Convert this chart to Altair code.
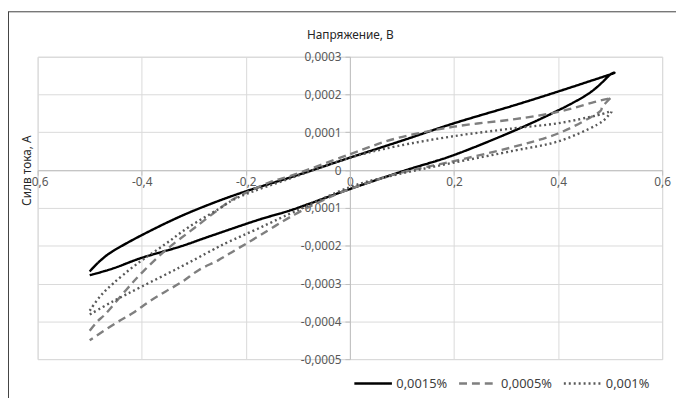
import altair as alt
import pandas as pd

series = ["0,0015%", "0,0005%", "0,001%"]

# 0,0015%  (forward branch, then return branch)
s1_up_x = [-0.5, -0.48, -0.455, -0.4, -0.33, -0.265, -0.2, -0.107, 0.0, 0.1, 0.2, 0.317, 0.4, 0.5]
s1_up_y = [-0.000268, -0.00024, -0.000214, -0.000172, -0.000125, -0.000088, -0.000056, -0.000016,
           0.000033, 0.000078, 0.000124, 0.000172, 0.000208, 0.000253]
s1_lo_x = [0.5, 0.475, 0.45, 0.4, 0.317, 0.2, 0.108, 0.0, -0.107, -0.177, -0.265, -0.328, -0.4, -0.455, -0.5]
s1_lo_y = [0.000253, 0.00022, 0.000195, 0.000158, 0.000105, 0.00004, 0.0, -0.00005, -0.000103,
           -0.000132, -0.000173, -0.000203, -0.000232, -0.00026, -0.000278]

# 0,0005%
s2_up_x = [-0.5, -0.485, -0.468, -0.43, -0.398, -0.354, -0.297, -0.2335, -0.2, -0.15, -0.107,
           0.0, 0.089, 0.2, 0.317, 0.4, 0.469, 0.5]
s2_up_y = [-0.000425, -0.0004, -0.000378, -0.000317, -0.000269, -0.000212, -0.000151, -0.000085,
           -0.00006, -0.00003, -0.000012, 0.000042, 0.000084, 0.000115, 0.000135, 0.000154, 0.00018, 0.00019]
s2_lo_x = [0.5, 0.485, 0.475, 0.4, 0.31, 0.2, 0.089, 0.0, -0.044, -0.107, -0.189, -0.221, -0.2525,
           -0.29, -0.322, -0.354, -0.385, -0.417, -0.449, -0.5]
s2_lo_y = [0.00019, 0.000168, 0.00015, 0.000097, 0.00006, 0.000024, -0.00001, -0.00005, -0.000075,
           -0.000118, -0.000186, -0.000212, -0.000238, -0.000264, -0.000295, -0.000321, -0.000347,
           -0.000378, -0.000404, -0.00045]

# 0,001%
s3_up_x = [-0.5, -0.48, -0.455, -0.411, -0.354, -0.31, -0.2525, -0.208, -0.107, 0.0, 0.089, 0.2,
           0.317, 0.4, 0.475, 0.5]
s3_up_y = [-0.000372, -0.000334, -0.0003, -0.00025, -0.000195, -0.000151, -0.000103, -0.000068,
           -0.000018, 0.000033, 0.000063, 0.00009, 0.000111, 0.000124, 0.000145, 0.000155]
s3_lo_x = [0.5, 0.475, 0.4, 0.317, 0.2, 0.089, 0.0, -0.107, -0.177, -0.2335, -0.265, -0.328, -0.4,
           -0.455, -0.5]
s3_lo_y = [0.00015, 0.00012, 0.000076, 0.000052, 0.00002, -0.000012, -0.000045, -0.00011, -0.000155,
           -0.00019, -0.000212, -0.000258, -0.000308, -0.000347, -0.000382]

x_ticks = [-0.6, -0.4, -0.2, 0.0, 0.2, 0.4, 0.6]
y_ticks = [-0.0005, -0.0004, -0.0003, -0.0002, -0.0001, 0.0, 0.0001, 0.0002, 0.0003]

rows = []
for name, xs, ys in [
    (series[0], s1_up_x + s1_lo_x, s1_up_y + s1_lo_y),
    (series[1], s2_up_x + s2_lo_x, s2_up_y + s2_lo_y),
    (series[2], s3_up_x + s3_lo_x, s3_up_y + s3_lo_y),
]:
    for i, (xv, yv) in enumerate(zip(xs, ys)):
        rows.append({"s": name, "i": i, "x": xv, "y": yv})
df = pd.DataFrame(rows)

W, H = 632, 306
FONT = "Noto Sans"
x_axis_y = H * 3 / 8      # pixel row of y = 0 (from top of plot)
y_axis_x = W / 2          # pixel column of x = 0

lab = "replace(replace(format(datum.value, '~g'), '.', ','), '\u2212', '-')"

legend_kw = dict(title=None, orient="none", direction="horizontal",
                 legendX=319, legendY=310, symbolType="stroke",
                 symbolSize=1444, symbolStrokeWidth=2.6,
                 labelFontSize=13, labelColor="#404040", labelFont=FONT,
                 labelOffset=3, columnPadding=6, padding=0)

lines = alt.Chart(df).mark_line(strokeWidth=2.4, interpolate="cardinal").encode(
    x=alt.X("x:Q", scale=alt.Scale(domain=[-0.6, 0.6], nice=False),
            axis=alt.Axis(values=x_ticks, offset=-(H - x_axis_y), labelExpr=lab,
                          title="Напряжение, В", titleX=W / 2, titleY=-22 - x_axis_y,
                          titleBaseline="middle", titleFontSize=12, titleFontWeight="normal",
                          titleColor="#262626", titleFont=FONT,
                          labelFlush=False, labelOverlap=False, labelPadding=2,
                          labelFontSize=12, labelColor="#595959", labelFont=FONT,
                          tickSize=5, tickColor="#bfbfbf", domainColor="#bfbfbf",
                          gridColor="#d9d9d9")),
    y=alt.Y("y:Q", scale=alt.Scale(domain=[-0.0005, 0.0003], nice=False),
            axis=alt.Axis(values=y_ticks, offset=-y_axis_x, labelExpr=lab,
                          title="Силв тока, А", titleX=-11 - y_axis_x, titleY=x_axis_y,
                          titleAngle=270, titleAlign="center", titleBaseline="middle",
                          titleFontSize=12, titleFontWeight="normal", titleColor="#262626",
                          titleFont=FONT,
                          labelOverlap=False, labelPadding=4, labelFontSize=12,
                          labelColor="#595959", labelFont=FONT,
                          tickSize=5, tickColor="#bfbfbf", domainColor="#bfbfbf",
                          gridColor="#d9d9d9")),
    color=alt.Color("s:N", scale=alt.Scale(domain=series, range=["#000000", "#7f7f7f", "#595959"]),
                    legend=alt.Legend(**legend_kw)),
    strokeDash=alt.StrokeDash("s:N", scale=alt.Scale(domain=series, range=[[1, 0], [8, 5], [2, 3]]),
                              legend=alt.Legend(**legend_kw)),
    order="i:Q",
)

frame_left = alt.Chart(alt.Data(values=[{}])).mark_rule(color="#404040", strokeWidth=1).encode(
    x=alt.value(-29.5), y=alt.value(-45.5), y2=alt.value(360))
frame_top = alt.Chart(alt.Data(values=[{}])).mark_rule(color="#404040", strokeWidth=1).encode(
    x=alt.value(-30), x2=alt.value(700), y=alt.value(-45.5))

chart = alt.layer(lines, frame_left, frame_top).properties(
    width=W, height=H,
    autosize=alt.AutoSizeParams(type="none"),
    padding={"left": 30, "top": 47, "right": 14, "bottom": 37},
    background="white",
).configure_view(stroke="#d9d9d9")

chart.save("out.html", embed_options={"renderer": "svg", "actions": False})
